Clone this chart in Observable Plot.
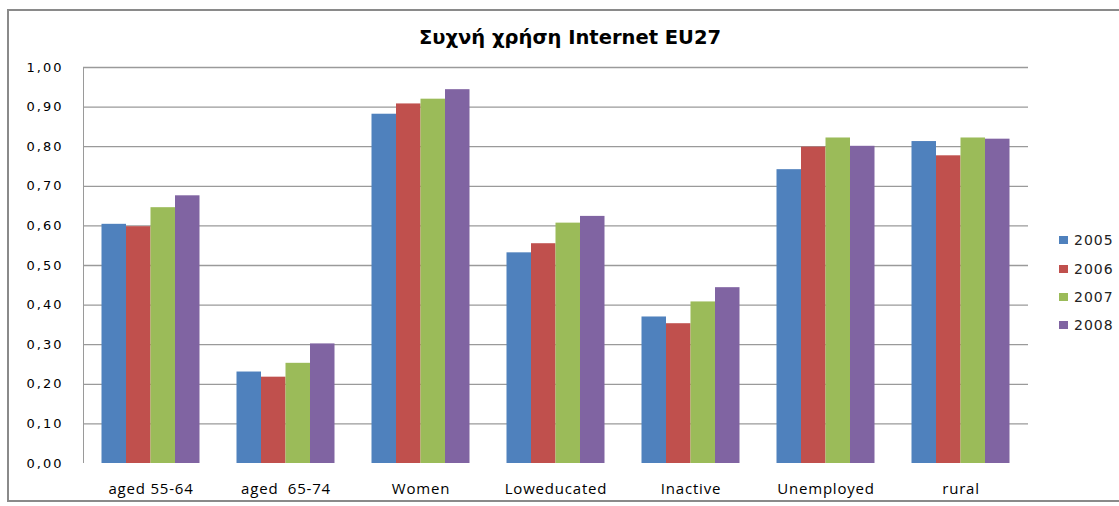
<!DOCTYPE html>
<html>
<head>
<meta charset="utf-8">
<script src="https://cdn.jsdelivr.net/npm/d3@7"></script>
<script src="https://cdn.jsdelivr.net/npm/@observablehq/plot@0.6"></script>
<style>
  html, body { margin: 0; padding: 0; background: #fff; }
  #wrap { position: relative; width: 1119px; height: 506px; overflow: hidden; background: #fff; }
  #border { position: absolute; left: 7px; top: 9px; width: 1130px; height: 493px; border: 2px solid #8a8a8a; box-sizing: border-box; }
  #title { position: absolute; left: 0; top: 26px; width: 1140px; text-align: center; font: bold 19.5px "DejaVu Sans", sans-serif; color: #000; }
  #chart { position: absolute; left: 0; top: 0; }
  #legend { position: absolute; left: 1059px; top: 226px; font: 14px "DejaVu Sans", sans-serif; color: #222; letter-spacing: 1px; }
  #legend .item { height: 28.4px; display: flex; align-items: center; }
  #legend .sw { width: 9px; height: 8px; margin-right: 6px; }
  g[aria-label="fx-axis tick label"] text { white-space: pre; font: 15px "Open Sans", sans-serif; letter-spacing: 0.8px; }
  g[aria-label="y-axis tick label"] text { font: 13px "DejaVu Sans", sans-serif; letter-spacing: 2px; }
</style>
</head>
<body>
<div id="wrap">
  <div id="border"></div>
  <div id="chart"></div>
  <div id="title"></div>
  <div id="legend"></div>
</div>
<script>
const titleText = "Συχνή χρήση Internet EU27";
const categories = ["aged 55-64", "aged  65-74", "Women", "Loweducated", "Inactive", "Unemployed", "rural"];
const years = [2005, 2006, 2007, 2008];
const colors = ["#4F81BD", "#C0504D", "#9BBB59", "#8064A2"];
const v2005 = [0.604, 0.231, 0.882, 0.532, 0.370, 0.742, 0.813];
const v2006 = [0.598, 0.218, 0.908, 0.555, 0.353, 0.799, 0.777];
const v2007 = [0.646, 0.253, 0.920, 0.607, 0.408, 0.822, 0.822];
const v2008 = [0.676, 0.302, 0.944, 0.624, 0.444, 0.801, 0.819];
const yTicks = [0, 0.1, 0.2, 0.3, 0.4, 0.5, 0.6, 0.7, 0.8, 0.9, 1.0];

const series = [v2005, v2006, v2007, v2008];
const data = [];
categories.forEach((c, i) => years.forEach((y, j) => data.push({category: c, year: y, value: series[j][i]})));

const pad = 0.755;
const xDomain = [years[0] - pad, years[years.length - 1] + 1 + pad];

const chart = Plot.plot({
  width: 1119,
  height: 506,
  marginTop: 67,
  marginBottom: 43,
  marginLeft: 82,
  marginRight: 91,
  style: {background: "transparent", fontFamily: "DejaVu Sans, sans-serif", fontSize: "13px", color: "#000"},
  fx: {domain: categories, padding: 0, label: null, tickSize: 0, tickPadding: 20},
  x: {domain: xDomain, axis: null},
  y: {domain: [0, 1], ticks: yTicks, tickFormat: d => d.toFixed(2).replace(".", ","), tickSize: 0, tickPadding: 20, label: null},
  color: {domain: years, range: colors},
  marks: [
    Plot.ruleY(yTicks.slice(1), {stroke: "#9a9a9a", strokeWidth: 1.3}),
    Plot.ruleX([{category: categories[0]}], {fx: "category", x: () => xDomain[0], y1: 0, y2: 1, stroke: "#9a9a9a", strokeWidth: 1}),
    Plot.rectY(data, {fx: "category", x: "year", interval: 1, y: "value", fill: "year", inset: 0})
  ]
});
document.getElementById("chart").appendChild(chart);
document.getElementById("title").textContent = titleText;
const legend = document.getElementById("legend");
years.forEach((y, j) => {
  const it = document.createElement("div");
  it.className = "item";
  const sw = document.createElement("span");
  sw.className = "sw";
  sw.style.background = colors[j];
  const t = document.createElement("span");
  t.textContent = String(y);
  it.appendChild(sw); it.appendChild(t);
  legend.appendChild(it);
});
</script>
</body>
</html>
